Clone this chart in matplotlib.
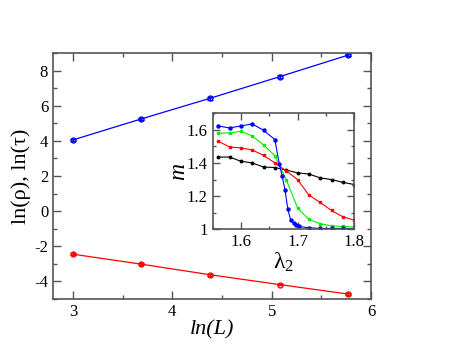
import numpy as np
import matplotlib
matplotlib.use('Agg')
import matplotlib.pyplot as plt
from matplotlib.ticker import MultipleLocator

plt.rcParams['font.family'] = ['Liberation Serif', 'DejaVu Serif']
plt.rcParams['mathtext.fontset'] = 'custom'
plt.rcParams['mathtext.rm'] = 'Liberation Serif'
plt.rcParams['mathtext.it'] = 'Liberation Serif:italic'
plt.rcParams['axes.unicode_minus'] = False

# main panel: ln(L) vs ln(rho), ln(tau)
lnL = [3.0, 3.69, 4.38, 5.08, 5.77]
ln_tau = [4.05, 5.25, 6.42, 7.65, 8.88]
ln_rho = [-2.45, -3.02, -3.62, -4.18, -4.72]

# inset: m vs lambda_2
lam_a = [1.56, 1.58, 1.60, 1.62, 1.64, 1.66, 1.668, 1.673, 1.678, 1.683,
         1.688, 1.693, 1.698, 1.702, 1.72, 1.74, 1.76, 1.78, 1.80]
m_blue = [1.622, 1.61, 1.622, 1.634, 1.596, 1.54, 1.392, 1.32, 1.236, 1.12,
          1.056, 1.04, 1.026, 1.018, 1.01, 1.006, 1.006, 1.006, 1.005]
lam_b = [1.56, 1.58, 1.60, 1.62, 1.64, 1.66, 1.68, 1.70, 1.72, 1.74, 1.76, 1.78, 1.80]
m_green = [1.578, 1.58, 1.59, 1.562, 1.508, 1.443, 1.30, 1.13, 1.06, 1.034, 1.022, 1.018, 1.014]
m_red = [1.53, 1.496, 1.49, 1.478, 1.445, 1.40, 1.352, 1.30, 1.207, 1.162, 1.114, 1.076, 1.056]
m_black = [1.435, 1.435, 1.41, 1.40, 1.375, 1.372, 1.357, 1.34, 1.333, 1.31, 1.30, 1.283, 1.27]

spine_c = '#555555'


def style(ax, size):
    for s in ax.spines.values():
        s.set_color(spine_c)
        s.set_linewidth(1.2)
    ax.tick_params(which='both', direction='in', top=True, right=True,
                   color=spine_c, labelsize=size)
    ax.tick_params(which='major', length=6, width=1)
    ax.tick_params(which='minor', length=3, width=1)


fig = plt.figure(figsize=(4.57, 3.53), dpi=100)
ax = fig.add_axes([0.116, 0.153, 0.696, 0.697])
ax.errorbar(lnL, ln_tau, yerr=0.07, color='#0000ff', lw=0.9, marker='o',
            ms=3.5, mfc='none', mew=1.0, capsize=2, elinewidth=0.9)
ax.errorbar(lnL, ln_rho, yerr=0.05, color='#ff0000', lw=0.9, marker='o',
            ms=3.5, mfc='none', mew=1.0, capsize=2, elinewidth=0.9)
ax.set_xlim(2.8, 6)
ax.set_ylim(-5, 9)
ax.xaxis.set_major_locator(MultipleLocator(1))
ax.xaxis.set_minor_locator(MultipleLocator(0.5))
ax.yaxis.set_major_locator(MultipleLocator(2))
ax.yaxis.set_minor_locator(MultipleLocator(1))
style(ax, 12)
ax.set_xlabel('ln(L)', fontsize=16, style='italic', labelpad=0)
ax.set_ylabel('ln(ρ), ln(τ)', fontsize=16, labelpad=2)

ins = fig.add_axes([0.465, 0.350, 0.310, 0.330])
ins.plot(lam_b, m_black, color='#000000', lw=0.8, marker='o', ms=1.8)
ins.plot(lam_b, m_red, color='#ff0000', lw=0.8, marker='s', ms=1.8)
ins.plot(lam_b, m_green, color='#00ee00', lw=0.8, marker='s', ms=1.8)
ins.plot(lam_a, m_blue, color='#0000ff', lw=0.8, marker='o', ms=2.2)
ins.set_xlim(1.55, 1.8)
ins.set_ylim(1.0, 1.7)
ins.xaxis.set_major_locator(MultipleLocator(0.1))
ins.xaxis.set_minor_locator(MultipleLocator(0.05))
ins.yaxis.set_minor_locator(MultipleLocator(0.1))
ins.set_yticks([1.0, 1.2, 1.4, 1.6])
ins.set_yticklabels(['1', '1.2', '1.4', '1.6'])
style(ins, 12)
ins.tick_params(which='major', length=5)
ins.tick_params(which='minor', length=2.5)
ins.set_xlabel('λ$_2$', fontsize=17, labelpad=0)
ins.set_ylabel('m', fontsize=17, style='italic', labelpad=-2)

fig.savefig('out.png', dpi=100)
